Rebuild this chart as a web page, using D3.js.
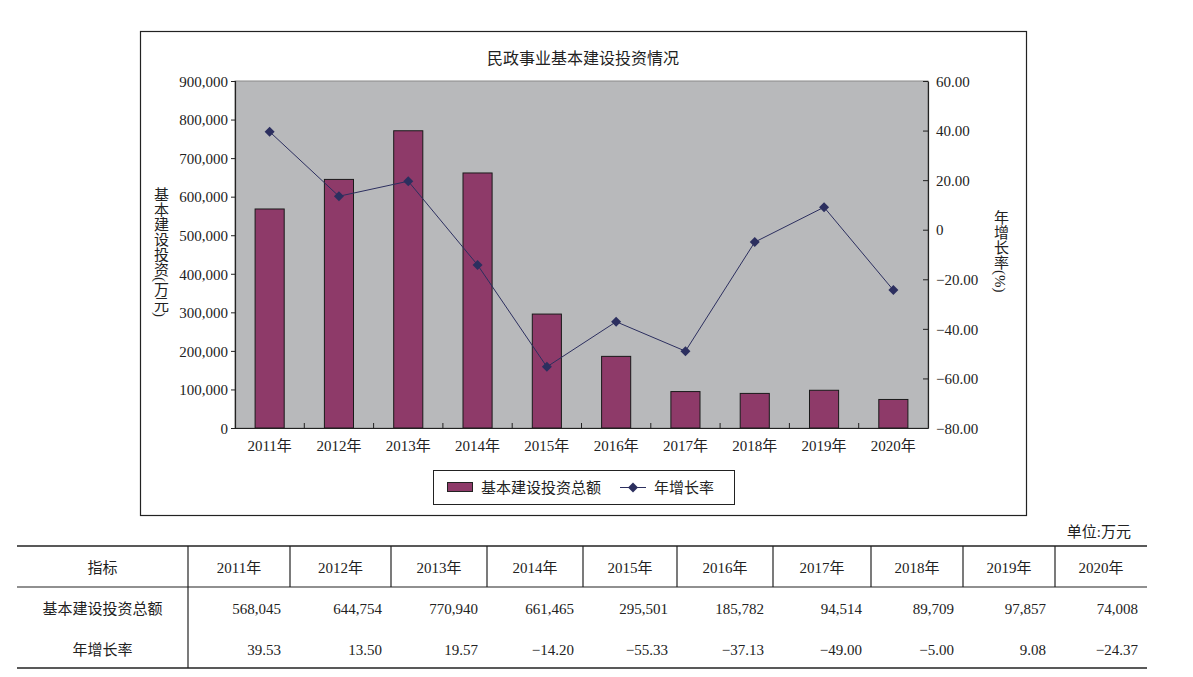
<!DOCTYPE html>
<html>
<head>
<meta charset="utf-8">
<script src="https://cdn.jsdelivr.net/npm/d3@7"></script>
<style>
body { margin: 0; background: #fff; }
text { font-family: "Liberation Serif", "Noto Sans CJK SC", serif; fill: #222; }
</style>
</head>
<body>
<div id="vis"></div>
<script>
var w = 1193;
var h = 677;

// data
var years = ['2011年', '2012年', '2013年', '2014年', '2015年', '2016年', '2017年', '2018年', '2019年', '2020年'];
var investment = [568045, 644754, 770940, 661465, 295501, 185782, 94514, 89709, 97857, 74008];
var growth = [39.53, 13.50, 19.57, -14.20, -55.33, -37.13, -49.00, -5.00, 9.08, -24.37];
var leftTicks = [0, 100000, 200000, 300000, 400000, 500000, 600000, 700000, 800000, 900000];
var rightTicks = [-80, -60, -40, -20, 0, 20, 40, 60];

var barColor = '#8e3a69';
var lineColor = '#2c2f5f';

var svg = d3.select('#vis').append('svg')
    .attr('width', w)
    .attr('height', h);

// chart frame
svg.append('rect')
    .attr('x', 140.5).attr('y', 31.5)
    .attr('width', 886).attr('height', 484)
    .attr('fill', '#fff').attr('stroke', '#222').attr('stroke-width', 1.2);

svg.append('text')
    .attr('x', 583).attr('y', 64)
    .attr('text-anchor', 'middle')
    .style('font-size', '16px')
    .text('民政事业基本建设投资情况');

var plot = {left: 235, right: 928, top: 81, bottom: 428};

var x = d3.scaleBand()
    .domain(years)
    .range([plot.left, plot.right])
    .paddingInner(0.58)
    .paddingOuter(0.29);

var xCat = d3.scaleBand().domain(years).range([plot.left, plot.right]);

var yL = d3.scaleLinear().domain([0, 900000]).range([plot.bottom, plot.top]);
var yR = d3.scaleLinear().domain([-80, 60]).range([plot.bottom, plot.top]);

// plot background
svg.append('rect')
    .attr('x', plot.left).attr('y', plot.top)
    .attr('width', plot.right - plot.left).attr('height', plot.bottom - plot.top)
    .attr('fill', '#b8b9bb').attr('stroke', '#8a8a8a').attr('stroke-width', 1);

// bars
svg.selectAll('.bar')
    .data(investment)
    .enter()
    .append('rect')
    .attr('class', 'bar')
    .attr('x', (d, i) => x(years[i]))
    .attr('y', d => yL(d))
    .attr('width', x.bandwidth())
    .attr('height', d => yL(0) - yL(d))
    .attr('fill', barColor)
    .attr('stroke', '#1a1a1a')
    .attr('stroke-width', 1);

// left axis
var leftAxis = d3.axisLeft(yL)
    .tickValues(leftTicks)
    .tickSize(4)
    .tickPadding(3)
    .tickFormat(d3.format(','));
var gl = svg.append('g')
    .attr('transform', 'translate(' + plot.left + ',0)')
    .call(leftAxis);
gl.selectAll('text').style('font-size', '15px').attr('dy', '0.35em');

// right axis (ticks point inward)
var rightAxis = d3.axisRight(yR)
    .tickValues(rightTicks)
    .tickSize(0)
    .tickPadding(8)
    .tickFormat(d => d == 0 ? '0' : d3.format('.2f')(d).replace('-', '\u2212'));
var gr = svg.append('g')
    .attr('transform', 'translate(' + plot.right + ',0)')
    .call(rightAxis);
gr.selectAll('.tick').append('line')
    .attr('x1', -5).attr('x2', 0)
    .attr('stroke', '#222');
gr.selectAll('text').style('font-size', '15px').attr('dy', '0.35em');

// bottom axis
var bottomAxis = d3.axisBottom(xCat).tickSize(0).tickPadding(12);
var gb = svg.append('g')
    .attr('transform', 'translate(0,' + plot.bottom + ')')
    .call(bottomAxis);
gb.selectAll('text').style('font-size', '15px');
gb.selectAll('.sep')
    .data(years.slice(1))
    .enter()
    .append('line')
    .attr('class', 'sep')
    .attr('x1', d => xCat(d)).attr('x2', d => xCat(d))
    .attr('y1', 0).attr('y2', -5)
    .attr('stroke', '#222');

[gl, gr, gb].forEach(function(g) {
    g.select('.domain').attr('stroke', '#222').attr('stroke-width', 1.2);
    g.selectAll('.tick line').attr('stroke', '#222');
});

// growth line
var line = d3.line()
    .x((d, i) => xCat(years[i]) + xCat.bandwidth() / 2)
    .y(d => yR(d));

svg.append('path')
    .datum(growth)
    .attr('d', line)
    .attr('fill', 'none')
    .attr('stroke', lineColor)
    .attr('stroke-width', 1);

var diamond = d3.symbol().type(d3.symbolSquare).size(50);
svg.selectAll('.pt')
    .data(growth)
    .enter()
    .append('path')
    .attr('class', 'pt')
    .attr('d', diamond)
    .attr('transform', (d, i) => 'translate(' + (xCat(years[i]) + xCat.bandwidth() / 2) + ',' + yR(d) + ') rotate(45)')
    .attr('fill', lineColor);

// vertical axis titles
svg.append('text')
    .attr('x', 160).attr('y', 187)
    .style('writing-mode', 'vertical-rl')
    .style('font-size', '15px')
    .text('基本建设投资(万元)');
svg.append('text')
    .attr('x', 1000).attr('y', 210)
    .style('writing-mode', 'vertical-rl')
    .style('font-size', '15px')
    .text('年增长率(%)');

// legend
svg.append('rect')
    .attr('x', 433.5).attr('y', 470.5)
    .attr('width', 301).attr('height', 34)
    .attr('fill', '#fff').attr('stroke', '#222').attr('stroke-width', 1);
svg.append('rect')
    .attr('x', 447.5).attr('y', 482.5)
    .attr('width', 25).attr('height', 9)
    .attr('fill', barColor).attr('stroke', '#222');
svg.append('text')
    .attr('x', 481).attr('y', 493)
    .style('font-size', '15px')
    .text('基本建设投资总额');
svg.append('line')
    .attr('x1', 620).attr('x2', 646)
    .attr('y1', 487.5).attr('y2', 487.5)
    .attr('stroke', lineColor);
svg.append('path')
    .attr('d', diamond)
    .attr('transform', 'translate(633,487.5) rotate(45)')
    .attr('fill', lineColor);
svg.append('text')
    .attr('x', 654).attr('y', 493)
    .style('font-size', '15px')
    .text('年增长率');

// unit
svg.append('text')
    .attr('x', 1131).attr('y', 537)
    .attr('text-anchor', 'end')
    .style('font-size', '15px')
    .text('单位:万元');

// table
var colEdges = [17, 188, 290, 391, 487, 583, 677, 773, 871, 963, 1055, 1147];
var tTop = 546, tHead = 587, tBottom = 668;

svg.append('line').attr('x1', colEdges[0]).attr('x2', colEdges[11])
    .attr('y1', tTop).attr('y2', tTop).attr('stroke', '#222').attr('stroke-width', 1.5);
svg.append('line').attr('x1', colEdges[0]).attr('x2', colEdges[11])
    .attr('y1', tHead).attr('y2', tHead).attr('stroke', '#222').attr('stroke-width', 1.2);
svg.append('line').attr('x1', colEdges[0]).attr('x2', colEdges[11])
    .attr('y1', tBottom).attr('y2', tBottom).attr('stroke', '#222').attr('stroke-width', 1.5);
svg.append('line').attr('x1', colEdges[1]).attr('x2', colEdges[1])
    .attr('y1', tTop).attr('y2', tBottom).attr('stroke', '#222').attr('stroke-width', 1.2);
svg.selectAll('.vsep')
    .data(colEdges.slice(2, 11))
    .enter()
    .append('line')
    .attr('x1', d => d).attr('x2', d => d)
    .attr('y1', tTop).attr('y2', tHead)
    .attr('stroke', '#222').attr('stroke-width', 1.2);

function cell(txt, xx, yy, anchor) {
    svg.append('text')
        .attr('x', xx).attr('y', yy)
        .attr('text-anchor', anchor)
        .style('font-size', '15px')
        .text(txt);
}
var labelX = (colEdges[0] + colEdges[1]) / 2;
cell('指标', labelX, 573, 'middle');
cell('基本建设投资总额', labelX, 614, 'middle');
cell('年增长率', labelX, 655, 'middle');

years.forEach(function(yr, i) {
    var l = colEdges[i + 1], r = colEdges[i + 2];
    cell(yr, (l + r) / 2, 573, 'middle');
    cell(d3.format(',')(investment[i]), r - 9, 614, 'end');
    cell(d3.format('.2f')(growth[i]).replace('-', '\u2212'), r - 9, 655, 'end');
});
</script>
</body>
</html>
